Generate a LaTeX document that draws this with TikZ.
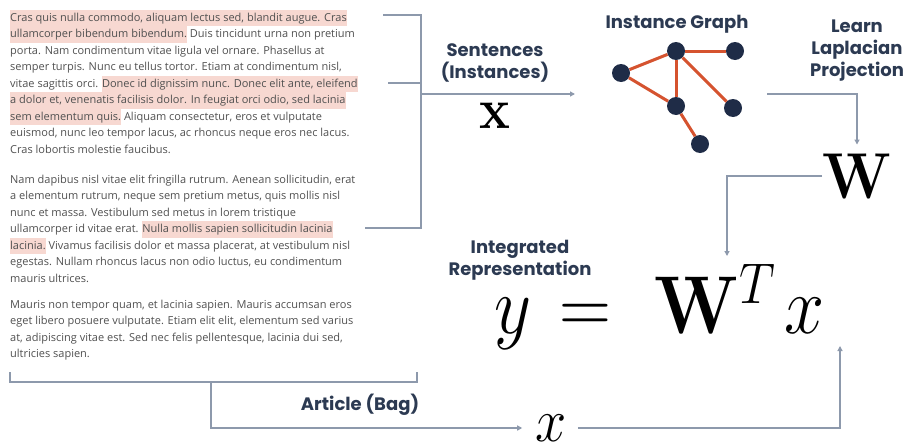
\RequirePackage{fix-cm}
\documentclass[tikz,border=0pt]{standalone}
\usepackage{amsmath}
\usepackage[no-math]{fontspec}
\usepackage{graphicx}
\usepackage{xcolor}
\usepackage{tikz}
\usetikzlibrary{arrows.meta}
\newfontfamily\bodyfont{Open Sans}
\newfontfamily\headfont{Poppins}
\definecolor{textgray}{HTML}{505050}
\definecolor{hlpink}{HTML}{F7D8D1}
\definecolor{headnavy}{HTML}{2C3A52}
\definecolor{dotnavy}{HTML}{1F2C47}
\definecolor{edgeorange}{HTML}{D5532F}
\definecolor{conngray}{HTML}{8D99AC}
\newcommand{\hilite}[1]{{\setlength{\fboxsep}{0pt}\colorbox{hlpink}{\strut #1}}}
\newcommand{\tallmath}[1]{\scalebox{1}[1.1]{$#1$}}

\begin{document}
\begin{tikzpicture}[x=1pt,y=-1pt,
  textpara/.style={anchor=north west,inner sep=0,align=left,text=textgray,
    font=\bodyfont\fontsize{11}{16.5}\selectfont},
  heading/.style={align=center,text=headnavy,
    font=\headfont\bfseries\fontsize{18}{22}\selectfont},
  gnode/.style={circle,fill=dotnavy,inner sep=0,minimum size=18pt},
  graphedge/.style={edgeorange,line width=3pt},
  conn/.style={conngray,line width=1.5pt},
  arr/.style={conn,-{Triangle[length=5pt,width=5pt]}}]
  \useasboundingbox (0,0) rectangle (910,447);

  % article text
  \node[textpara] (par1) at (10,9.5) {\strut\hilite{Cras quis nulla commodo, aliquam lectus sed, blandit augue. Cras}\\
    \hilite{ullamcorper bibendum bibendum.} Duis tincidunt urna non pretium\\
    porta. Nam condimentum vitae ligula vel ornare. Phasellus at\\
    semper turpis. Nunc eu tellus tortor. Etiam at condimentum nisl,\\
    vitae sagittis orci. \hilite{Donec id dignissim nunc. Donec elit ante, eleifend}\\
    \hilite{a dolor et, venenatis facilisis dolor. In feugiat orci odio, sed lacinia}\\
    \hilite{sem elementum quis.} Aliquam consectetur, eros et vulputate\\
    euismod, nunc leo tempor lacus, ac rhoncus neque eros nec lacus.\\
    Cras lobortis molestie faucibus.};
  \node[textpara] (par2) at (10,171.5) {\strut Nam dapibus nisl vitae elit fringilla rutrum. Aenean sollicitudin, erat\\
    a elementum rutrum, neque sem pretium metus, quis mollis nisl\\
    nunc et massa. Vestibulum sed metus in lorem tristique\\
    ullamcorper id vitae erat. \hilite{Nulla mollis sapien sollicitudin lacinia}\\
    \hilite{lacinia.} Vivamus facilisis dolor et massa placerat, at vestibulum nisl\\
    egestas. Nullam rhoncus lacus non odio luctus, eu condimentum\\
    mauris ultrices.};
  \node[textpara] (par3) at (10,296.5) {\strut Mauris non tempor quam, et lacinia sapien. Mauris accumsan eros\\
    eget libero posuere vulputate. Etiam elit elit, elementum sed varius\\
    at, adipiscing vitae est. Sed nec felis pellentesque, lacinia dui sed,\\
    ultricies sapien.};

  % labels
  \node[heading] (sent) at (495,63) {Sentences\\(Instances)};
  \node[heading] (igraph) at (677,24) {Instance Graph};
  \node[heading] (learn) at (857,51) {Learn\\Laplacian\\Projection};
  \node[heading] (integ) at (520,260) {Integrated\\Representation};
  \node[heading] (bag) at (360,405) {Article (Bag)};

  % math
  \node[inner sep=0,font=\fontsize{52}{52}\selectfont] (xvec) at (495,116) {\tallmath{\mathbf{x}}};
  \node[inner sep=0,font=\fontsize{59}{59}\selectfont] (wmat) at (857,176) {\tallmath{\mathbf{W}}};
  \node[inner sep=0,anchor=base west,font=\fontsize{72}{72}\selectfont] (eqn) at (494,333)
    {\scalebox{1}[1.14]{$y \mskip2mu = \mskip6mu \mathbf{W}^T \mskip2mu x$}};
  \node[inner sep=0,font=\fontsize{56}{56}\selectfont] (xbag) at (551,428) {\tallmath{x}};

  % instance graph
  \node[gnode] (ga) at (676,51) {};
  \node[gnode] (gb) at (735,51) {};
  \node[gnode] (gc) at (621,73) {};
  \node[gnode] (gd) at (676,106) {};
  \node[gnode] (ge) at (733,108) {};
  \node[gnode] (gf) at (700,144) {};
  \foreach \a/\b in {ga/gb,ga/gc,ga/gd,ga/ge,gc/gd,gd/gf}
    \draw[graphedge] (\a) -- (\b);

  % sentence bracket
  \coordinate (s1) at (383,15);
  \coordinate (s2) at (388,83);
  \coordinate (s3) at (365,228);
  \coordinate (sbot) at (421,228);
  \coordinate (sbar) at (421,94);
  \coordinate (gin) at (575,94);
  \draw[conn] (s1) -| (sbot) -- (s3);
  \draw[conn] (s2) -- (s2 -| sbot);
  \draw[arr] (sbar) -- (gin);

  % graph to W to equation
  \coordinate (gout) at (767,94);
  \coordinate (tin) at (727,256);
  \draw[arr,shorten >=9pt] (gout) -| (wmat);
  \draw[arr] (wmat.west) -| (tin);

  % article bracket
  \coordinate (bagl) at (10,382);
  \coordinate (bagr) at (417,382);
  \coordinate (bagm) at (211,382);
  \coordinate (eqin) at (840,346);
  \draw[conn] ([yshift=10pt]bagl) -- (bagl) -- (bagr) -- ([yshift=10pt]bagr);
  \draw[arr,shorten >=13pt] (bagm) |- (xbag);
  \draw[arr,shorten <=11pt] (xbag.east) -| (eqin);
\end{tikzpicture}
\end{document}
